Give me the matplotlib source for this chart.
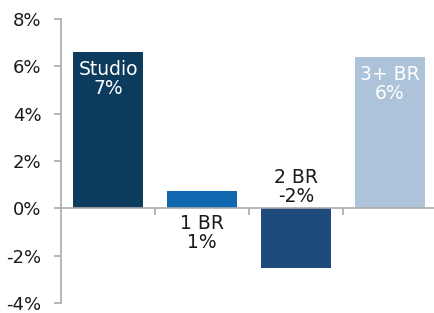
import matplotlib
matplotlib.use("Agg")
import matplotlib.pyplot as plt
from matplotlib.ticker import FixedLocator

categories = ["Studio", "1 BR", "2 BR", "3+ BR"]
values = [6.6, 0.75, -2.5, 6.4]
labels = ["7%", "1%", "-2%", "6%"]
colors = ["#0d3b5e", "#1166b0", "#1f4a7c", "#adc3d9"]
label_colors = ["white", "#1a1a1a", "#1a1a1a", "white"]
yticks = [-4, -2, 0, 2, 4, 6, 8]

plt.rcParams['font.family'] = ['DejaVu Sans']
fig = plt.figure(figsize=(4.35, 3.13), dpi=100)
ax = fig.add_axes([61/435, 1-303/313, (437-61)/435, (303-19)/313])

x = list(range(len(categories)))
ax.bar(x, values, width=0.75, color=colors, zorder=2)

ax.set_xlim(-0.5, len(categories) - 0.5)
ax.set_ylim(-4, 8)
ax.set_yticks(yticks)
ax.set_yticklabels([f"{t}%" for t in yticks], fontsize=13, color="#1a1a1a")

for s in ["top", "right"]:
    ax.spines[s].set_visible(False)
ax.spines["left"].set_color("#aaaaaa")
ax.spines["left"].set_linewidth(1.2)
ax.spines["bottom"].set_position(("data", 0))
ax.spines["bottom"].set_color("#aaaaaa")
ax.spines["bottom"].set_linewidth(1.2)
ax.tick_params(axis="y", colors="#aaaaaa", length=5, width=1.2, labelcolor="#1a1a1a", pad=9)
ax.xaxis.set_major_locator(FixedLocator([0.5, 1.5, 2.5]))
ax.tick_params(axis="x", colors="#aaaaaa", length=5, width=1.2, labelbottom=False)

fs = 13.5
for i, (c, v, lab) in enumerate(zip(categories, values, labels)):
    txt = f"{c}\n{lab}"
    if v > 2:
        ax.annotate(txt, (i, v), xytext=(0, -6), textcoords="offset points",
                    ha="center", va="top", fontsize=fs, color=label_colors[i],
                    linespacing=1.0)
    elif v > 0:
        ax.annotate(txt, (i, 0), xytext=(0, -4), textcoords="offset points",
                    ha="center", va="top", fontsize=fs, color=label_colors[i],
                    linespacing=1.0)
    else:
        ax.annotate(txt, (i, 0), xytext=(0, 2), textcoords="offset points",
                    ha="center", va="bottom", fontsize=fs, color=label_colors[i],
                    linespacing=1.0)

fig.savefig("out.png", dpi=100)
